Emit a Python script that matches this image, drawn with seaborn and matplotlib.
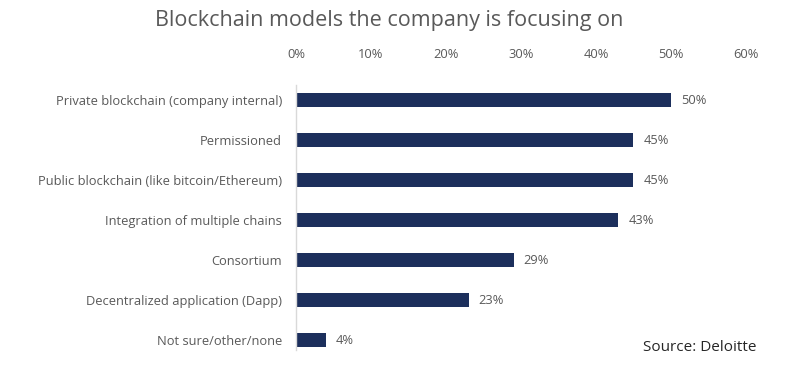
import numpy as np
import pandas as pd
import matplotlib
matplotlib.use('Agg')
import matplotlib.pyplot as plt
import seaborn as sns

# survey answers
models = ['Private blockchain (company internal)', 'Permissioned',
          'Public blockchain (like bitcoin/Ethereum)', 'Integration of multiple chains',
          'Consortium', 'Decentralized application (Dapp)', 'Not sure/other/none']
share = [50, 45, 45, 43, 29, 23, 4]
ticks = [0, 10, 20, 30, 40, 50, 60]

df = pd.DataFrame({'model': models, 'share': share})

sns.set_style('white')
plt.rcParams['font.family'] = ['Open Sans', 'DejaVu Sans']
grey = '#595959'
navy = '#1c2f5c'

fig = plt.figure(figsize=(7.86, 3.69), dpi=100)
ax = fig.add_axes([0.3766, 0.024, 0.5725, 0.759])
sns.barplot(data=df, x='share', y='model', color=navy, width=0.36, ax=ax,
            saturation=1, edgecolor='none')

for i, v in enumerate(share):
    ax.text(v + 1.3, i, f'{v}%', va='center', ha='left', fontsize=9.3, color=grey)

ax.set_xlim(0, 60)
ax.set_ylim(6.5, -0.5)
ax.set_xticks(ticks)
ax.set_xticklabels([f'{t}%' for t in ticks], fontsize=9.3, color=grey)
ax.xaxis.tick_top()
ax.tick_params(axis='x', length=0, pad=14)
ax.tick_params(axis='y', length=0, pad=10, labelsize=9.3, labelcolor=grey)
ax.set_xlabel('')
ax.set_ylabel('')
for s in ['top', 'right', 'bottom']:
    ax.spines[s].set_visible(False)
ax.spines['left'].set_color('#d9d9d9')
ax.spines['left'].set_linewidth(1)
ax.spines['left'].set_bounds(6.25, -0.38)

fig.text(0.495, 0.945, 'Blockchain models the company is focusing on', ha='center',
         va='center', fontsize=15.5, color=grey)
fig.text(0.963, 0.057, 'Source: Deloitte', ha='right', va='center', fontsize=11,
         color='#262626')

fig.savefig('out.png', dpi=100)
